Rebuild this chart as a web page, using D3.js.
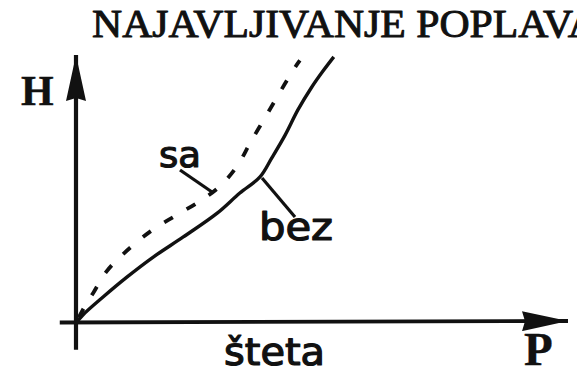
<!DOCTYPE html>
<html>
<head>
<meta charset="utf-8">
<script src="https://cdn.jsdelivr.net/npm/d3@7"></script>
<style>
  html, body { margin: 0; padding: 0; background: #fff; }
  svg { display: block; }
</style>
</head>
<body>
<svg id="chart" width="577" height="380"></svg>
<script>
// Damage (P) vs. water level (H), with and without flood warning
const title = "NAJAVLJIVANJE POPLAVA";
const axisLabelY = "H";
const axisLabelX = "P";
const axisTitleX = "šteta";

// curve without warning ("bez")
const bezP = [0, 1.4, 5.5, 10.4, 15.7, 21.8, 28.7, 33.3, 37.4, 39.8, 42.5, 45.1, 47.8, 50.2, 52.4];
const bezH = [0, 3.0, 9.7, 17.2, 24.6, 32.1, 41.0, 48.5, 54.5, 61.6, 70.1, 79.5, 87.7, 94.0, 99.3];

// curve with warning ("sa")
const saP = [0, 1.6, 3.5, 6.1, 9.8, 15.0, 20.1, 25.2, 29.3, 32.9, 35.4, 38.6, 41.7, 44.3, 45.5];
const saH = [0, 5.6, 11.2, 19.0, 26.1, 34.0, 39.9, 45.5, 51.1, 59.0, 67.2, 77.2, 86.9, 94.8, 98.0];

const seriesNames = ["bez", "sa"];

const svg = d3.select("#chart");
const x = d3.scaleLinear().domain([0, 100]).range([76, 568]);
const y = d3.scaleLinear().domain([0, 100]).range([323, 55]);

const ink = "#111";

// arrowheads
const defs = svg.append("defs");
defs.append("marker")
  .attr("id", "arrow")
  .attr("viewBox", "0 0 46 20")
  .attr("refX", 46).attr("refY", 10)
  .attr("markerWidth", 46).attr("markerHeight", 20)
  .attr("markerUnits", "userSpaceOnUse")
  .attr("orient", "auto")
  .append("path")
  .attr("d", "M0,0 L46,10 L0,20 L3,10 Z")
  .attr("fill", ink);

// axes (no ticks), drawn from the scales
const xAxis = d3.axisBottom(x).tickValues([]).tickSizeOuter(0);
const yAxis = d3.axisLeft(y).tickValues([]).tickSizeOuter(0);
svg.append("g").attr("transform", `translate(0,${y(0)})`).call(xAxis)
  .select(".domain").remove();
svg.append("g").attr("transform", `translate(${x(0)},0)`).call(yAxis)
  .select(".domain").remove();

svg.append("line")
  .attr("x1", x(-3.3)).attr("y1", y(0) - 0.5)
  .attr("x2", x(100)).attr("y2", y(0) - 2)
  .attr("stroke", ink).attr("stroke-width", 3.8)
  .attr("marker-end", "url(#arrow)");
svg.append("line")
  .attr("x1", x(0)).attr("y1", y(-10))
  .attr("x2", x(0)).attr("y2", y(100))
  .attr("stroke", ink).attr("stroke-width", 4.2)
  .attr("marker-end", "url(#arrow)");

const line = d3.line()
  .x(d => x(d[0])).y(d => y(d[1]))
  .curve(d3.curveCatmullRom.alpha(0.5));

const bez = bezP.map((p, i) => [p, bezH[i]]);
const sa = saP.map((p, i) => [p, saH[i]]);

svg.append("path")
  .datum(bez)
  .attr("class", "curve " + seriesNames[0])
  .attr("d", line)
  .attr("fill", "none")
  .attr("stroke", ink)
  .attr("stroke-width", 3.4);

svg.append("path")
  .datum(sa)
  .attr("class", "curve " + seriesNames[1])
  .attr("d", line)
  .attr("fill", "none")
  .attr("stroke", ink)
  .attr("stroke-width", 3.8)
  .attr("stroke-dasharray", "10,16")
  .attr("stroke-dashoffset", -6);

// leader lines to series labels
svg.append("line")
  .attr("x1", 180).attr("y1", 170).attr("x2", 212).attr("y2", 192)
  .attr("stroke", ink).attr("stroke-width", 3.2);
svg.append("line")
  .attr("x1", 262).attr("y1", 178).attr("x2", 295).attr("y2", 217)
  .attr("stroke", ink).attr("stroke-width", 3.2);

const sans = "'DejaVu Sans', sans-serif";
const serif = "'Liberation Serif', 'Times New Roman', serif";

function label(txt, xp, yp, family, size, len, weightStroke) {
  const t = svg.append("text").text(txt)
    .attr("x", xp).attr("y", yp)
    .attr("font-family", family).attr("font-size", size)
    .attr("fill", ink)
    .attr("stroke", ink).attr("stroke-width", weightStroke)
    .attr("stroke-linejoin", "round");
  if (len) t.attr("textLength", len).attr("lengthAdjust", "spacingAndGlyphs");
  return t;
}

label(seriesNames[1], 159, 167, sans, 36, 42, 1.2);
label(seriesNames[0], 259, 240, sans, 37, 74, 1.2);
label(axisTitleX, 224, 365, sans, 37, 101, 1.2);

label(axisLabelY, 21, 105, serif, 42, null, 0.4).attr("font-weight", "bold");
label(axisLabelX, 524, 365, serif, 47, null, 0.4).attr("font-weight", "bold");

label(title, 92, 37, serif, 40, 506, 1.0);
</script>
</body>
</html>
